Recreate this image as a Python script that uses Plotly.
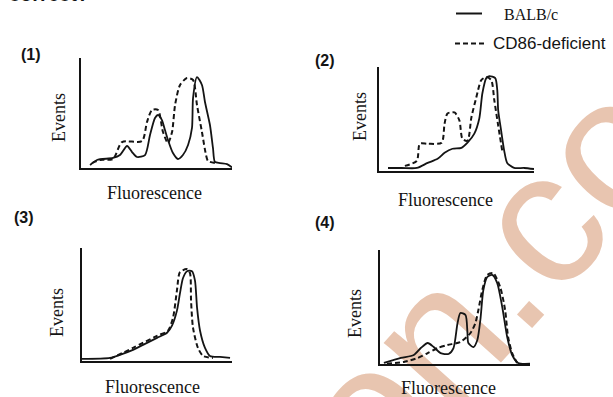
import base64
import plotly.graph_objects as go

W, H = 613, 397

# ---------------- data (x = fluorescence, y = events, 0-100) -------------
p1_balb_x = [6.0, 10.6, 21.2, 25.8, 30.5, 33.8, 37.1, 42.4, 45.7, 49.0, 51.0, 53.6, 55.6, 57.6, 60.9,
             64.2, 67.5, 70.9, 73.5, 74.2, 76.8, 80.1, 82.1, 85.4, 87.4, 88.7, 92.1, 96.7, 100.0]
p1_balb_y = [2.7, 7.3, 9.1, 11.8, 20.0, 14.5, 10.0, 11.8, 30.0, 45.5, 48.2, 43.6, 34.5, 25.5, 13.6,
             8.2, 11.8, 20.9, 36.4, 63.6, 82.7, 75.5, 60.0, 39.1, 18.2, 5.5, 4.5, 3.6, 0.5]
p1_cd86_x = [7.3, 12.6, 21.2, 27.2, 40.4, 43.7, 47.0, 51.0, 54.3, 57.6, 60.3, 62.3, 65.6, 70.2,
             74.2, 76.8, 80.1, 82.8, 84.1, 88.7]
p1_cd86_y = [4.5, 7.3, 8.2, 23.6, 24.5, 41.8, 52.7, 52.7, 32.7, 22.7, 32.7, 57.3, 75.5, 81.8,
             80.0, 57.3, 32.7, 11.8, 6.4, 4.5]

p2_balb_x = [5.8, 14.7, 24.4, 31.4, 37.8, 42.3, 47.4, 53.2, 57.1, 61.5, 64.7, 66.7, 69.2, 71.2,
             75.0, 76.3, 76.9, 78.8, 80.8, 82.7, 87.2, 93.6, 100.0]
p2_balb_y = [2.9, 2.9, 2.9, 7.8, 11.7, 17.5, 21.4, 22.3, 27.2, 35.9, 50.5, 74.8, 89.3, 91.3,
             89.3, 77.7, 58.3, 38.8, 19.4, 7.8, 2.9, 2.9, 1.9]
p2_cd86_x = [16.7, 24.4, 26.3, 31.4, 40.4, 42.3, 44.2, 48.7, 51.9, 53.8, 57.1, 59.6, 62.8, 66.0,
             69.2, 72.4, 74.4, 76.9, 79.5]
p2_cd86_y = [4.9, 9.7, 26.2, 26.2, 27.2, 45.6, 55.3, 56.3, 48.5, 31.1, 29.1, 51.5, 70.9, 87.4,
             90.3, 87.4, 68.0, 43.7, 19.4]

p3_balb_x = [0.0, 18.7, 25.3, 34.0, 40.7, 50.0, 56.7, 60.0, 63.3, 65.3, 67.3, 70.0, 73.3, 75.3,
             76.7, 78.7, 82.0, 85.3, 92.0, 98.7]
p3_balb_y = [1.8, 2.7, 5.4, 9.8, 14.3, 20.5, 25.0, 31.3, 44.6, 59.8, 73.2, 79.5, 79.5, 71.4,
             47.3, 26.8, 11.6, 4.5, 3.6, 2.7]
p3_cd86_x = [18.7, 34.0, 50.0, 57.3, 60.7, 63.3, 65.3, 70.0, 72.0, 72.7, 74.0, 77.3, 80.7, 87.3]
p3_cd86_y = [1.8, 11.6, 22.3, 26.8, 38.4, 62.5, 78.6, 81.3, 77.7, 53.6, 29.5, 11.6, 4.5, 2.7]

p4_balb_x = [2.6, 13.9, 22.5, 27.2, 31.8, 35.8, 40.4, 45.7, 49.0, 51.7, 53.6, 57.0, 58.3, 58.9,
             62.3, 64.9, 66.9, 68.9, 71.5, 74.8, 78.1, 81.5, 84.8, 88.1, 92.1, 100.0]
p4_balb_y = [0.9, 5.3, 7.9, 14.0, 18.4, 14.9, 9.6, 8.8, 14.0, 36.0, 44.7, 43.0, 27.2, 18.4,
             14.9, 21.1, 38.6, 64.9, 76.3, 78.1, 71.1, 50.0, 23.7, 7.9, 0.9, 0.3]
p4_cd86_x = [4.6, 15.9, 25.2, 31.8, 38.4, 45.0, 53.6, 60.3, 63.6, 65.6, 68.2, 71.5, 75.5, 80.1,
             83.4, 85.4, 88.1, 91.4]
p4_cd86_y = [0.3, 1.8, 5.3, 9.6, 14.0, 16.7, 19.3, 27.2, 36.0, 47.4, 64.9, 78.1, 79.8, 67.5,
             47.4, 23.7, 9.6, 0.9]

panel_labels = ["(1)", "(2)", "(3)", "(4)"]
series_names = ["BALB/c", "CD86-deficient"]
x_title = "Fluorescence"
y_title = "Events"

panels = [
    (p1_balb_x, p1_balb_y, p1_cd86_x, p1_cd86_y),
    (p2_balb_x, p2_balb_y, p2_cd86_x, p2_cd86_y),
    (p3_balb_x, p3_balb_y, p3_cd86_x, p3_cd86_y),
    (p4_balb_x, p4_balb_y, p4_cd86_x, p4_cd86_y),
]

# ---------------- layout geometry (pixels) ----------------
# axis boxes: (left, right, top, bottom)
boxes = [(81, 232, 58, 168), (379, 534, 67, 171), (82, 232, 248, 361), (380, 530, 250, 364)]
label_pos = [(31, 54), (325, 60), (24, 217), (325, 222)]
events_pos = [(58.5, 117.5), (360, 117), (56.5, 312.5), (355, 314)]
fluor_pos = [(154, 193), (445, 200), (152, 387), (448, 388)]


def fx(px):
    return px / W


def fy(py):
    return 1 - py / H


SERIF = "Liberation Serif, Times New Roman, serif"
SANS = "Liberation Sans, Arial, sans-serif"
INK = "#141414"

fig = go.Figure()
layout = dict(
    width=W, height=H, autosize=False,
    margin=dict(l=0, r=0, t=0, b=0, pad=0),
    paper_bgcolor="white", plot_bgcolor="rgba(0,0,0,0)",
    showlegend=False,
)

for i, (bx, by, dx, dy) in enumerate(panels):
    n = "" if i == 0 else str(i + 1)
    l, r, t, b = boxes[i]
    layout["xaxis" + n] = dict(domain=[fx(l), fx(r)], range=[0, 100], showgrid=False, zeroline=False,
                               showticklabels=False, ticks="", showline=True, linecolor=INK,
                               linewidth=2, anchor="y" + n, fixedrange=True)
    layout["yaxis" + n] = dict(domain=[fy(b), fy(t)], range=[0, 100], showgrid=False, zeroline=False,
                               showticklabels=False, ticks="", showline=True, linecolor=INK,
                               linewidth=2, anchor="x" + n, fixedrange=True)
    fig.add_trace(go.Scatter(x=bx, y=by, mode="lines", name=series_names[0],
                             line=dict(color=INK, width=1.8, shape="spline", smoothing=0.7),
                             xaxis="x" + n, yaxis="y" + n, hoverinfo="skip"))
    fig.add_trace(go.Scatter(x=dx, y=dy, mode="lines", name=series_names[1],
                             line=dict(color=INK, width=2, dash="5px,3px", shape="spline", smoothing=0.7),
                             xaxis="x" + n, yaxis="y" + n, hoverinfo="skip"))

annotations = []
for i in range(4):
    lx, ly = label_pos[i]
    annotations.append(dict(text="<b>" + panel_labels[i] + "</b>", x=fx(lx), y=fy(ly), xref="paper",
                            yref="paper", showarrow=False, xanchor="center", yanchor="middle",
                            font=dict(family=SANS, size=16, color=INK)))
    ex, ey = events_pos[i]
    annotations.append(dict(text=y_title, x=fx(ex), y=fy(ey), xref="paper", yref="paper",
                            showarrow=False, textangle=-90, xanchor="center", yanchor="middle",
                            font=dict(family=SERIF, size=18, color=INK)))
    ux, uy = fluor_pos[i]
    annotations.append(dict(text=x_title, x=fx(ux), y=fy(uy), xref="paper", yref="paper",
                            showarrow=False, xanchor="center", yanchor="middle",
                            font=dict(family=SERIF, size=18, color=INK)))

# legend (top right)
annotations.append(dict(text=series_names[0], x=fx(502), y=fy(15), xref="paper", yref="paper",
                        showarrow=False, xanchor="left", yanchor="middle",
                        font=dict(family=SERIF, size=16, color=INK)))
annotations.append(dict(text=series_names[1], x=fx(491), y=fy(43), xref="paper", yref="paper",
                        showarrow=False, xanchor="left", yanchor="middle",
                        font=dict(family=SANS, size=17, color=INK)))
# cut-off text at the very top
annotations.append(dict(text="<b>correct?</b>", x=fx(7), y=fy(-6), xref="paper", yref="paper",
                        showarrow=False, xanchor="left", yanchor="middle",
                        font=dict(family=SANS, size=20, color=INK)))

shapes = [
    dict(type="line", xref="paper", yref="paper", x0=fx(456), x1=fx(482), y0=fy(13.5), y1=fy(13.5),
         line=dict(color=INK, width=2)),
    dict(type="line", xref="paper", yref="paper", x0=fx(455), x1=fx(486), y0=fy(43.5), y1=fy(43.5),
         line=dict(color=INK, width=2, dash="5px,3px")),
]

# watermark (drawn beneath everything)
svg = (
    '<svg xmlns="http://www.w3.org/2000/svg" width="613" height="397" viewBox="0 0 613 397">'
    '<g transform="translate(520.4,341) rotate(-48)" font-family="Liberation Sans, Arial, sans-serif" '
    'font-size="190" fill="#e8c5b0">'
    '<text x="0" y="0" text-anchor="end">meritnation</text>'
    '<text x="0" y="0" text-anchor="start">.com</text>'
    '</g></svg>'
)
src = "data:image/svg+xml;base64," + base64.b64encode(svg.encode()).decode()
layout["images"] = [dict(source=src, xref="paper", yref="paper", x=0, y=1, sizex=1, sizey=1,
                         xanchor="left", yanchor="top", sizing="stretch", layer="below")]

layout["annotations"] = annotations
layout["shapes"] = shapes
fig.update_layout(**layout)
fig.write_html("out.html", config={"displayModeBar": False},
               post_script="document.body.style.margin='0';document.body.style.overflow='hidden';")
